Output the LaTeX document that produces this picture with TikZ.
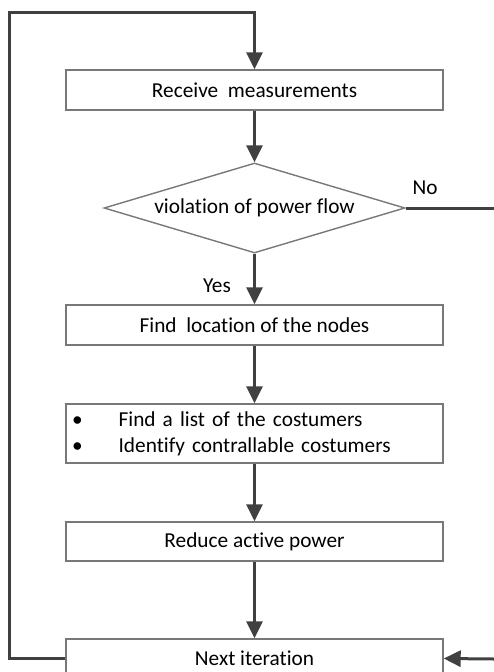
\documentclass[tikz,border=0pt]{standalone}
\usepackage{fontspec}
\setmainfont{Carlito}[Ligatures=NoCommon]
\usepackage{tikz}
\usetikzlibrary{arrows.meta,positioning,shapes.geometric}
\definecolor{linegray}{RGB}{64,64,64}
\definecolor{boxgray}{RGB}{120,120,120}

\begin{document}
\begin{tikzpicture}[x=1pt, y=-1pt,
  proc/.style={rectangle, draw=boxgray, line width=1.4pt, fill=white,
               minimum width=377pt, minimum height=40pt, inner sep=0pt,
               font=\fontsize{21.3}{26}\selectfont},
  dec/.style={diamond, draw=boxgray, line width=1.4pt, fill=white,
              shape aspect=3.3, minimum width=301pt, minimum height=90pt,
              inner sep=0pt, font=\fontsize{21.3}{26}\selectfont},
  lbl/.style={font=\fontsize{21.3}{26}\selectfont},
  flow/.style={line width=3pt, draw=linegray},
  arr/.style={flow, -{Triangle[length=17pt, width=16pt]}}
]
  \useasboundingbox (0,0) rectangle (494,672);
  \clip (0,0) rectangle (494,672);

  \node[proc] (meas) at (254.5, 90)    {Receive\ \ measurements};
  \node[dec]  (viol) at (254.5, 208)   {violation of power flow};
  \node[proc] (loc)  at (254.5, 325)   {Find\ \ location of the nodes};
  \node[proc, minimum height=59pt, text width=365pt, align=left]
              (cust) at (254.5, 433.5)
              {\textbullet\hspace{36pt}Find a list of the costumers\\
               \textbullet\hspace{36pt}Identify contrallable costumers};
  \node[proc, minimum height=39pt] (red)  at (254.5, 541.5) {Reduce active power};
  \node[proc, minimum height=39pt] (next) at (254.5, 658.5) {Next iteration};

  \node[lbl] (no)  at (425, 188) {No};
  \node[lbl] (yes) at (217, 286) {Yes};

  \coordinate (noend)  at (494, 208);
  \coordinate (backin) at (494, 659);
  \coordinate (corner) at (9, 12);

  \draw[arr] (meas) -- (viol);
  \draw[arr] (viol) -- (loc);
  \draw[arr] (loc) -- (cust);
  \draw[arr] (cust) -- (red);
  \draw[arr] (red) -- (next);
  \draw[flow] (viol.east) -- (noend);
  \draw[arr] (backin) -- (next.east);
  \draw[arr] (next.west) -| (corner) -| (meas.north);
\end{tikzpicture}
\end{document}
